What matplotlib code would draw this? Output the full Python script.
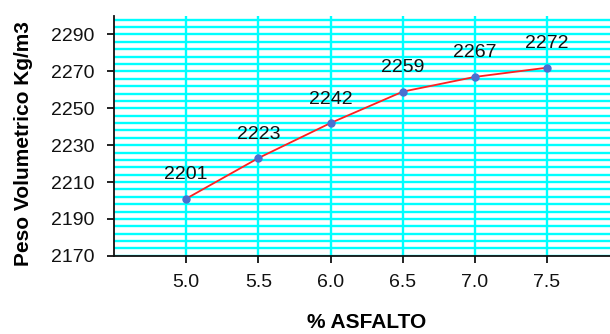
import matplotlib
matplotlib.use("Agg")
import numpy as np
import matplotlib.pyplot as plt
from matplotlib.ticker import FixedLocator, FormatStrFormatter

asfalto = [5.0, 5.5, 6.0, 6.5, 7.0, 7.5]
peso = [2201, 2223, 2242, 2259, 2267, 2272]
y_ticks = [2170, 2190, 2210, 2230, 2250, 2270, 2290]

plt.rcParams['font.family'] = ['Liberation Sans', 'DejaVu Sans']

fig = plt.figure(figsize=(6.10, 3.34), dpi=100)
# the plot area runs on past the right edge of the figure
ax = fig.add_axes([0.187, 0.234, 0.828, 0.718])

ax.set_xlim(4.5, 8.0)
ax.set_ylim(2170, 2300)

ax.set_xticks(asfalto)
ax.xaxis.set_major_formatter(FormatStrFormatter('%.1f'))
ax.set_yticks(y_ticks)
ax.yaxis.set_minor_locator(FixedLocator(np.arange(2170, 2300, 4)))

grid_kw = dict(color='#00FFFF', linewidth=1.7, zorder=0)
ax.grid(True, which='major', axis='x', **grid_kw)
ax.grid(True, which='both', axis='y', **grid_kw)
ax.set_axisbelow(True)

for side in ('top', 'right'):
    ax.spines[side].set_visible(False)
for side in ('left', 'bottom'):
    ax.spines[side].set_linewidth(1.3)
    ax.spines[side].set_color('#111111')

ax.tick_params(axis='both', which='major', direction='out', length=5,
               width=1.3, labelsize=14, colors='#111111')
ax.tick_params(axis='y', which='major', pad=9)
ax.tick_params(axis='x', which='major', pad=8)
ax.tick_params(axis='y', which='minor', length=0)

ax.plot(asfalto, peso, color='#FF2020', linewidth=1.3, zorder=3)
ax.plot(asfalto, peso, linestyle='none', marker='o', markersize=5,
        color='#4A6FD0', zorder=4)

for x, y in zip(asfalto, peso):
    ax.annotate(str(y), (x, y), xytext=(0, 14), textcoords='offset points',
                ha='center', va='baseline', fontsize=14, color='#111111')

ax.set_xlabel('% ASFALTO', fontsize=15, fontweight='bold', labelpad=16)
ax.set_ylabel('Peso Volumetrico Kg/m3', fontsize=15, fontweight='bold')
ax.yaxis.set_label_coords(-0.16, 0.47)

fig.savefig('out.png', dpi=100)
